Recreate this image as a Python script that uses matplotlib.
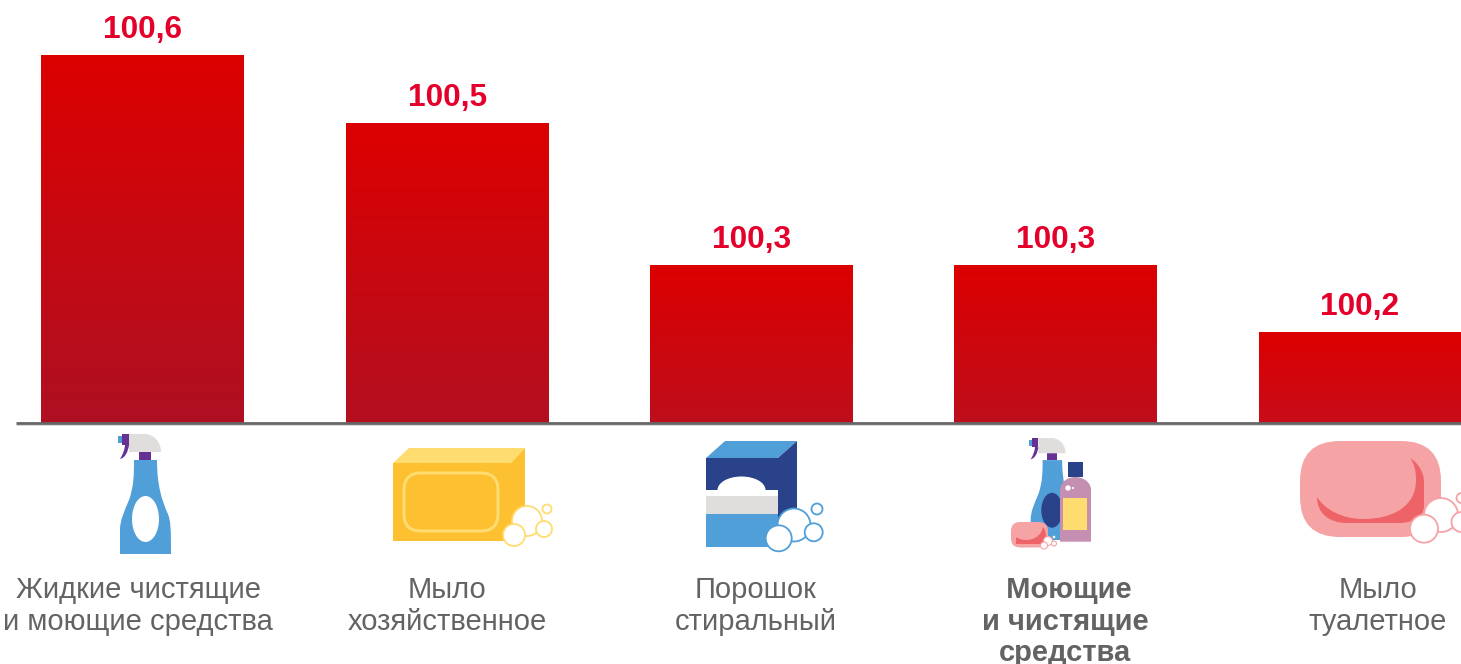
import numpy as np
import matplotlib.pyplot as plt
from matplotlib.colors import to_rgb
from matplotlib.patches import Circle, Ellipse, FancyBboxPatch, PathPatch, Polygon, Rectangle
from matplotlib.path import Path

plt.rcParams['font.family'] = ['Liberation Sans', 'DejaVu Sans']

categories = ['Жидкие чистящие\nи моющие средства', 'Мыло\nхозяйственное', 'Порошок\nстиральный',
              ' Моющие\nи чистящие\nсредства', 'Мыло\nтуалетное']
values = [100.6, 100.502, 100.297, 100.297, 100.2]
value_labels = ['100,6', '100,5', '100,3', '100,3', '100,2']
bold_category = 3

BLUE = '#519FD9'
NAVY = '#2A4289'
PURPLE = '#653294'
GREY = '#DFDEDC'
YELLOW = '#FDC030'
LIGHT_YELLOW = '#FFDC70'
PINK = '#F5A3A5'
DARK_PINK = '#EE6367'
MAUVE = '#C48FB0'

W, H = 1461, 664
fig = plt.figure(figsize=(W / 100, H / 100), dpi=100)

# Chart axes: the top part of the picture, down to the baseline
baseline_px = 423
px_per_unit = 692.5
step = 304.25
ax = fig.add_axes([0, 1 - baseline_px / H, 1, baseline_px / H])
ax.axis('off')
x = np.arange(len(values))
y_min = 100.6 - 368 / px_per_unit
y_max = y_min + baseline_px / px_per_unit
bars = ax.bar(x, np.array(values) - y_min, bottom=y_min, width=203 / step, color='none')

# Every bar runs from the same red to a bottom colour that is darker for taller bars
bottom_h = [91, 158, 368]
bottom_col = np.array([to_rgb(c) for c in ['#C80C1A', '#BE0E1C', '#AE1022']])
top_col = np.array(to_rgb('#DC0000'))
for bar in bars:
    top = bar.get_y() + bar.get_height()
    n = int(round(bar.get_height() * px_per_unit))
    end = np.array([np.interp(n, bottom_h, bottom_col[:, i]) for i in range(3)])
    t = np.linspace(0, 1, n)[:, None, None]
    img = top_col[None, None, :] * (1 - t) + end[None, None, :] * t
    im = ax.imshow(img, extent=[bar.get_x(), bar.get_x() + bar.get_width(), y_min, top],
                   aspect='auto', origin='upper', interpolation='nearest', zorder=2)
    im.set_clip_path(bar)

for i, v in enumerate(values):
    ax.annotate(value_labels[i], (x[i], v), xytext=(0, 7.2), textcoords='offset points',
                ha='center', va='bottom', color='#E4002B', fontsize=22.8, fontweight='bold')

ax.set_xlim(-143 / step, (W - 143) / step)
ax.set_ylim(y_min, y_max)

# Pictures and captions go on an overlay in pixel coordinates
ov = fig.add_axes([0, 0, 1, 1])
ov.set_xlim(0, W)
ov.set_ylim(H, 0)
ov.axis('off')
ov.patch.set_alpha(0)

ov.plot([16, W], [423, 423], color='#666666', lw=2.0, solid_capstyle='butt')
ov.plot([16, W], [425, 425], color='#D5D5D5', lw=0.7, solid_capstyle='butt')

label_x = [138, 447, 755.5, 1065, 1378]
for i, cat in enumerate(categories):
    weight = 'bold' if i == bold_category else 'normal'
    for j, line in enumerate(cat.split('\n')):
        ov.text(label_x[i], 590 + 31.6 * j, line, ha='center', va='center', fontsize=21,
                color='#636363', fontweight=weight)


def poly(pts, color, z=3):
    ov.add_patch(Polygon(pts, closed=True, fc=color, ec='none', zorder=z))


def rect(x0, y0, x1, y1, color, z=3):
    ov.add_patch(Rectangle((x0, y0), x1 - x0, y1 - y0, fc=color, ec='none', zorder=z))


def bubbles(items, color, lw=1.3, z=5):
    for cx, cy, r in items:
        ov.add_patch(Circle((cx, cy), r, fc='white', ec=color, lw=lw, zorder=z))


def curve(verts, codes, color, z=3):
    ov.add_patch(PathPatch(Path(verts, codes), fc=color, ec='none', zorder=z))


def rounded(x0, y0, x1, y1, r, color, z=3, ec='none', lw=0):
    ov.add_patch(FancyBboxPatch((x0 + r, y0 + r), x1 - x0 - 2 * r, y1 - y0 - 2 * r,
                                boxstyle='round,pad=%g,rounding_size=%g' % (r, r),
                                fc=color, ec=ec, lw=lw, zorder=z))


M, L, C = Path.MOVETO, Path.LINETO, Path.CURVE4


def spray(ox, oy, s, hole, z=3):
    # (ox, oy) is the top left corner of the sprayer, s the scale
    def p(px, py):
        return (ox + px * s, oy + py * s)
    body = [p(16, 26), p(39, 26),
            p(39, 52), p(44, 66), p(49, 78), p(53, 86), p(53, 96), p(53, 120),
            p(2, 120), p(2, 96),
            p(2, 86), p(6, 78), p(11, 66), p(16, 52), p(16, 40), p(16, 26)]
    codes = [M, L, C, C, C, C, C, C, L, L, C, C, C, C, C, C]
    curve(body, codes, BLUE, z)
    rect(*p(21, 18), *p(33, 26), PURPLE, z)
    rect(*p(0, 2), *p(6, 9), BLUE, z)
    head = [p(11, 0), p(26, 0), p(37, 0), p(43, 9), p(43, 18), p(11, 18), p(11, 0)]
    curve(head, [M, L, C, C, C, L, L], GREY, z)
    rect(*p(4, 0), *p(11, 11), PURPLE, z)
    trigger = [p(7, 10), p(11, 11), p(10, 18), p(7, 24), p(2, 25), p(5, 20), p(7, 15), p(7, 10)]
    curve(trigger, [M, L, C, C, C, C, C, C], PURPLE, z)
    ov.add_patch(Ellipse(p(hole[0], hole[1]), hole[2] * s, hole[3] * s, fc=hole[4], ec='none', zorder=z + 0.5))


# Bottle
spray(118, 434, 1.0, (27.5, 85, 27, 46, 'white'))

# Household soap
rect(393, 463, 511, 541, YELLOW)
poly([(393, 463), (409, 448), (525, 448), (511, 463)], LIGHT_YELLOW)
poly([(511, 463), (525, 448), (525, 527), (511, 541)], YELLOW)
rounded(404, 473, 498, 531, 17, 'none', z=4, ec=LIGHT_YELLOW, lw=2.2)
bubbles([(527, 521, 15), (544, 529, 8), (547, 509, 4.5), (514, 535, 11)], LIGHT_YELLOW)

# Washing powder
rect(706, 458, 778, 514, NAVY)
poly([(706, 458), (725, 441), (797, 441), (778, 458)], BLUE)
poly([(778, 458), (797, 441), (797, 530), (778, 530)], NAVY)
ov.add_patch(Ellipse((741.5, 490), 48, 27, fc='white', ec='none', zorder=3.2))
rect(706, 490, 778, 496, 'white', 3.3)
rect(706, 496, 778, 514, GREY, 3.3)
rect(706, 514, 778, 547, BLUE, 3.3)
bubbles([(794, 525, 16.5), (813.7, 532.3, 9), (817, 509, 5.5), (778.7, 538.3, 13)], BLUE)

# Detergents group
spray(1029, 438, 0.85, (27, 85, 25, 41, NAVY))
curve([(1060, 541.7), (1060, 490), (1060, 482), (1068, 477), (1075, 477), (1083, 477), (1091, 482), (1091, 490),
       (1091, 541.7), (1060, 541.7)],
      [M, L, C, C, C, C, C, C, L, L], MAUVE, 4)
rect(1068, 462, 1083, 476.5, NAVY, 4)
rect(1063, 498, 1087, 530, LIGHT_YELLOW, 4.2)
ov.add_patch(Circle((1068, 488), 2.7, fc='white', ec='none', zorder=4.2))
ov.add_patch(Circle((1073, 488), 1.1, fc='white', ec='none', zorder=4.2))
rounded(1011, 522, 1048, 547.5, 9, PINK, 5)
curve([(1016, 537), (1022, 542), (1040, 542), (1043, 527), (1047, 532), (1047, 540), (1042, 544), (1020, 544),
       (1016, 544), (1016, 537)],
      [M, C, C, C, C, C, C, L, L, L], DARK_PINK, 5.1)
bubbles([(1048, 541, 4.5), (1054, 543.5, 2.5), (1044, 545.5, 3.5)], PINK, lw=0.8, z=5.2)
ov.add_patch(Circle((1054, 537), 1.3, fc='white', ec='none', zorder=5.2))

# Toilet soap
rounded(1300, 441, 1441, 537, 40, PINK)
curve([(1317, 497), (1325, 510), (1343, 519), (1363, 519), (1395, 519), (1416, 505), (1416, 480), (1416, 470), (1414, 463),
       (1410, 458), (1418, 463), (1424, 472), (1424, 482), (1424, 507), (1424, 516), (1412, 523), (1400, 523),
       (1347, 523), (1330, 523), (1317, 514), (1317, 497)],
      [M] + [C] * 12 + [L] + [C] * 3 + [L] + [C] * 3,
      DARK_PINK, 4)
bubbles([(1441, 515, 17), (1461.5, 522, 10), (1461.5, 498, 5), (1424, 528.7, 14)], PINK)

fig.savefig('out.png', dpi=100)
